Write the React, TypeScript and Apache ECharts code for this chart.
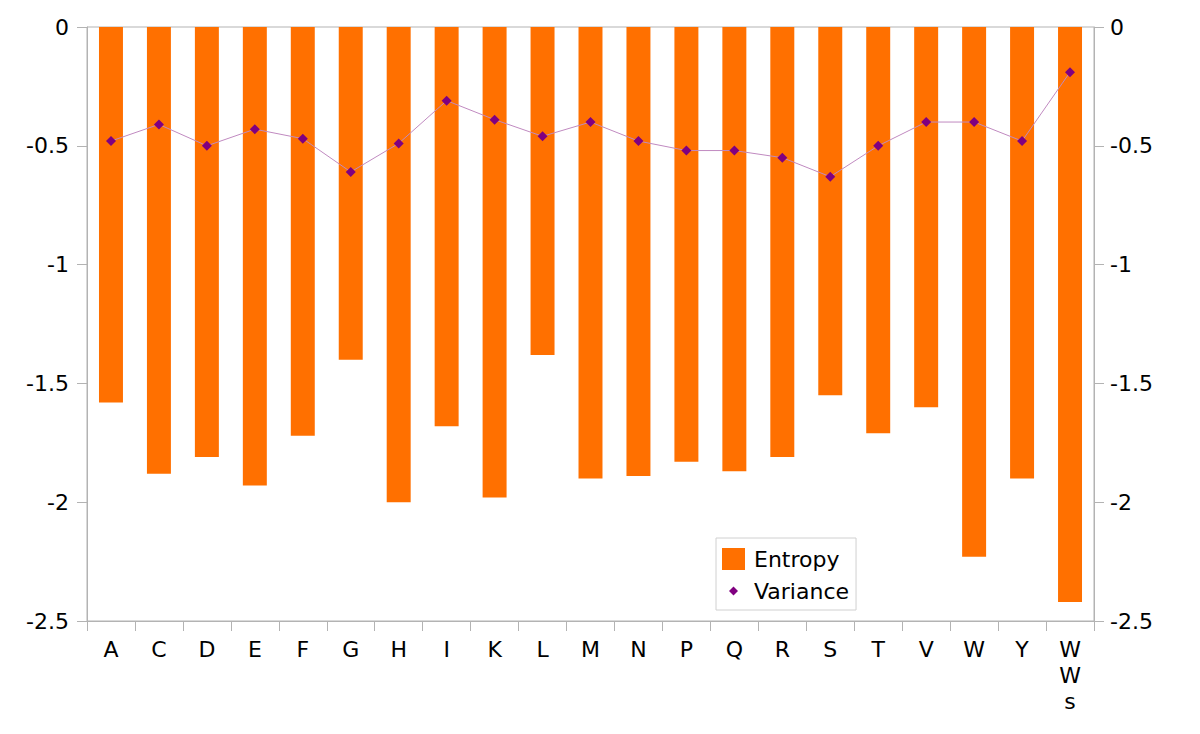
import React, { useEffect, useRef } from "react";
import * as echarts from "echarts";

const categories = ["A", "C", "D", "E", "F", "G", "H", "I", "K", "L", "M", "N", "P", "Q", "R", "S", "T", "V", "W", "Y", "WWs"];
const entropy = [-1.58, -1.88, -1.81, -1.93, -1.72, -1.4, -2.0, -1.68, -1.98, -1.38, -1.9, -1.89, -1.83, -1.87, -1.81, -1.55, -1.71, -1.6, -2.23, -1.9, -2.42];
const variance = [-0.48, -0.41, -0.5, -0.43, -0.47, -0.61, -0.49, -0.31, -0.39, -0.46, -0.4, -0.48, -0.52, -0.52, -0.55, -0.63, -0.5, -0.4, -0.4, -0.48, -0.19];

const FONT = "DejaVu Sans";
const GRAY = "#b3b3b3";
const FS = 22;

export default function App() {
  const ref = useRef<HTMLDivElement>(null);
  useEffect(() => {
    if (!ref.current) return;
    const chart = echarts.init(ref.current, null, { renderer: "svg" });
    const yAxisCommon = {
      type: "value",
      min: -2.5,
      max: 0,
      interval: 0.5,
      axisLine: { show: true, lineStyle: { color: GRAY } },
      axisTick: { show: true, length: 10, lineStyle: { color: GRAY } },
      splitLine: { show: false },
    };
    chart.setOption({
      animation: false,
      textStyle: { fontFamily: FONT },
      grid: {
        left: 87,
        right: 106,
        top: 27,
        bottom: 113,
        show: true,
        borderColor: GRAY,
        borderWidth: 1,
        containLabel: false,
      },
      legend: {
        left: 716,
        top: 538,
        orient: "vertical",
        backgroundColor: "#fff",
        borderColor: "#d0d0d0",
        borderWidth: 1,
        padding: [10, 7, 8, 6],
        itemWidth: 23,
        itemHeight: 22,
        itemGap: 10,
        textStyle: { fontFamily: FONT, fontSize: FS, color: "#000", padding: [0, 0, 0, 4] },
        data: [
          { name: "Entropy", icon: "rect" },
          { name: "Variance", icon: "path://M0,0 M11.5,6.5 L16,11 L11.5,15.5 L7,11 Z M23,22" },
        ],
      },
      xAxis: {
        type: "category",
        data: categories,
        axisLine: { show: true, onZero: false, lineStyle: { color: GRAY } },
        axisTick: { show: true, length: 10, lineStyle: { color: GRAY } },
        axisLabel: {
          fontFamily: FONT,
          fontSize: FS,
          color: "#000",
          margin: 15,
          lineHeight: 26,
          interval: 0,
          formatter: (v: string) => v.split("").join("\n"),
        },
      },
      yAxis: [
        {
          ...yAxisCommon,
          position: "left",
          axisLabel: { fontFamily: FONT, fontSize: FS, color: "#000", margin: 18 },
        },
        {
          ...yAxisCommon,
          position: "right",
          axisLabel: { fontFamily: FONT, fontSize: FS, color: "#000", margin: 16 },
        },
      ],
      series: [
        {
          name: "Entropy",
          type: "bar",
          data: entropy,
          barWidth: "50%",
          itemStyle: { color: "#ff7000" },
          yAxisIndex: 0,
        },
        {
          name: "Variance",
          type: "line",
          data: variance,
          yAxisIndex: 0,
          symbol: "diamond",
          symbolSize: 10,
          lineStyle: { color: "#c08ac0", width: 1 },
          itemStyle: { color: "#800080" },
          z: 3,
        },
      ],
    });
    return () => chart.dispose();
  }, []);
  return (
    <div
      ref={ref}
      style={{ position: "fixed", left: 0, top: 0, width: 1200, height: 734, background: "#fff" }}
    />
  );
}
